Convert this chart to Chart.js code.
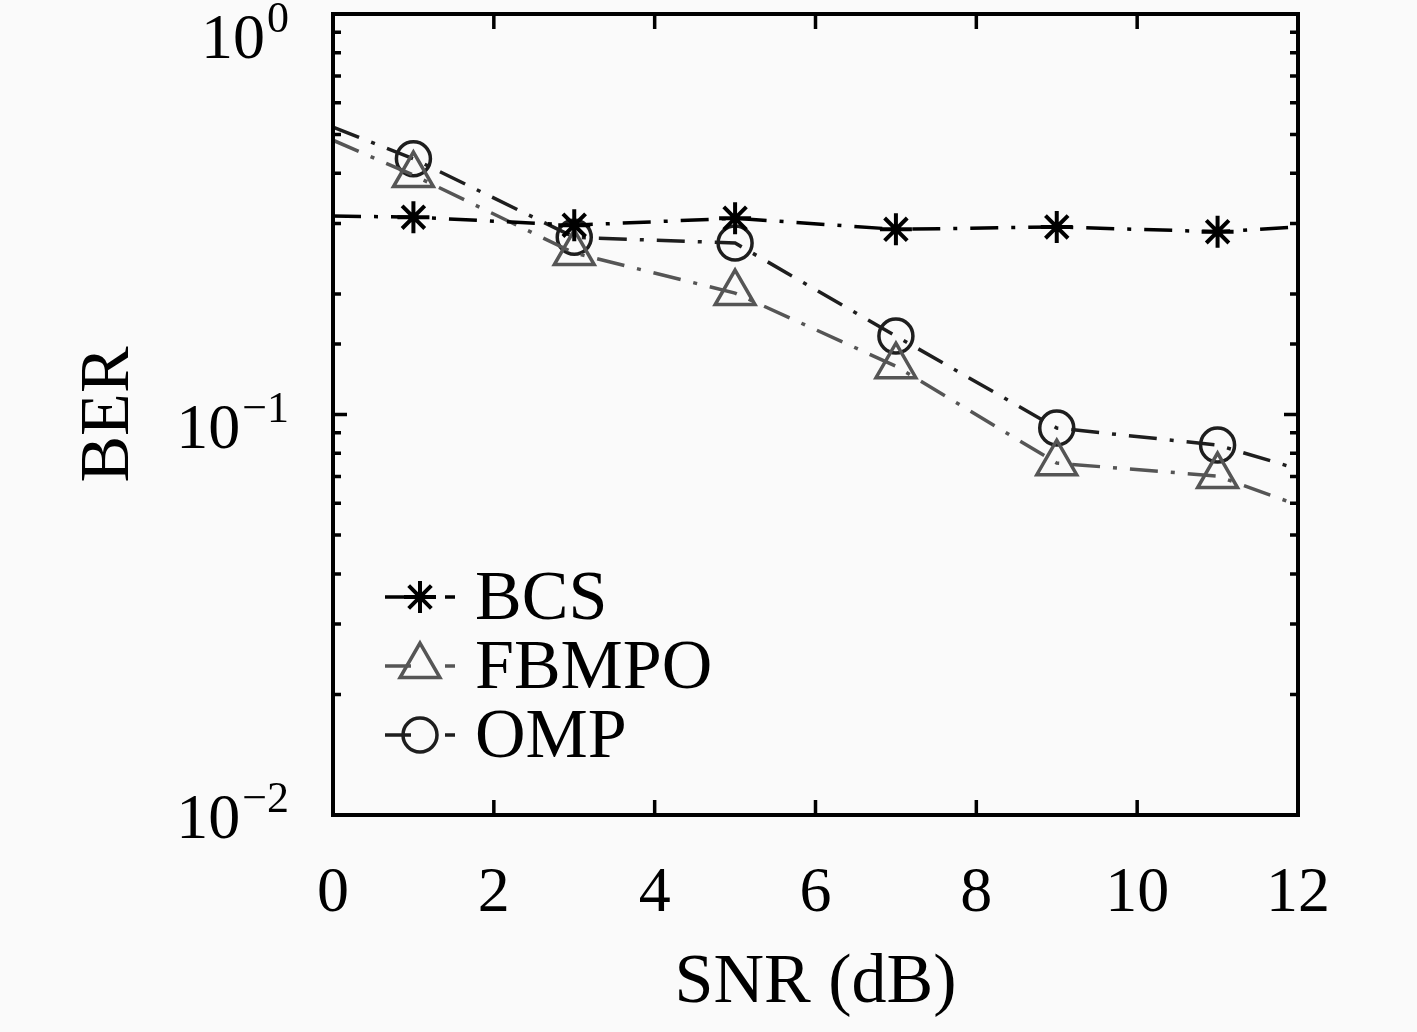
<!DOCTYPE html>
<html>
<head>
<meta charset="utf-8">
<script src="https://cdn.jsdelivr.net/npm/chart.js@4.4.1/dist/chart.umd.min.js"></script>
<style>
  html, body { margin: 0; padding: 0; background: #fafafa; }
  #wrap { width: 1417px; height: 1032px; }
</style>
</head>
<body>
<div id="wrap"><canvas id="c" width="1417" height="1032"></canvas></div>
<script>
// ---- data ----
const snr = [0, 1, 3, 5, 7, 9, 11, 12];
const markerShown = [false, true, true, true, true, true, true, false];
const berBCS   = [0.313, 0.311, 0.297, 0.309, 0.290, 0.294, 0.286, 0.294];
const berFBMPO = [0.484, 0.396, 0.253, 0.201, 0.132, 0.0756, 0.0702, 0.0594];
const berOMP   = [0.522, 0.435, 0.277, 0.268, 0.157, 0.0925, 0.0839, 0.0731];
const seriesNames = ['BCS', 'FBMPO', 'OMP'];
const xTickValues = [0, 2, 4, 6, 8, 10, 12];
const yDecades = [0, -1, -2];

const FONT = '"Liberation Serif", "Times New Roman", serif';
const DASH = [28, 13, 4, 13];

function pts(arr) { return snr.map((x, i) => ({ x: x, y: arr[i] })); }
function radii(r) { return markerShown.map(s => s ? r : 0); }

const styles = [
  { color: '#000000', point: 'star', r: 16, bw: 4 },
  { color: '#555555', point: 'triangle', r: 23, bw: 3.5 },
  { color: '#1e1e1e', point: 'circle', r: 17, bw: 3.5 }
];
const seriesData = [berBCS, berFBMPO, berOMP];

const datasets = seriesData.map((d, i) => ({
  label: seriesNames[i],
  data: pts(d),
  borderColor: styles[i].color,
  borderWidth: 3.5,
  borderDash: DASH,
  tension: 0,
  fill: false,
  pointStyle: styles[i].point,
  pointRadius: radii(styles[i].r),
  pointHoverRadius: radii(styles[i].r),
  pointBorderColor: styles[i].color,
  pointBackgroundColor: 'rgba(0,0,0,0)',
  pointBorderWidth: styles[i].bw
}));

function drawMarker(ctx, style, x, y, r, color, bw) {
  ctx.save();
  ctx.strokeStyle = color;
  ctx.lineWidth = bw;
  ctx.setLineDash([]);
  ctx.beginPath();
  if (style === 'circle') {
    ctx.arc(x, y, r, 0, Math.PI * 2);
  } else if (style === 'triangle') {
    for (let k = 0; k < 3; k++) {
      const a = k * 2 * Math.PI / 3;
      const px = x + Math.sin(a) * r, py = y - Math.cos(a) * r;
      if (k === 0) ctx.moveTo(px, py); else ctx.lineTo(px, py);
    }
    ctx.closePath();
  } else {
    for (let k = 0; k < 4; k++) {
      const a = k * Math.PI / 4;
      ctx.moveTo(x - Math.sin(a) * r, y - Math.cos(a) * r);
      ctx.lineTo(x + Math.sin(a) * r, y + Math.cos(a) * r);
    }
  }
  ctx.stroke();
  ctx.restore();
}

const framePlugin = {
  id: 'frame',
  beforeDraw(chart) {
    const ctx = chart.ctx;
    ctx.save();
    ctx.fillStyle = '#fafafa';
    ctx.fillRect(0, 0, chart.width, chart.height);
    ctx.restore();
  },
  afterDraw(chart) {
    const ctx = chart.ctx;
    const a = chart.chartArea;
    const xs = chart.scales.x, ys = chart.scales.y;
    ctx.save();
    ctx.strokeStyle = '#000';
    ctx.lineWidth = 3.5;
    ctx.setLineDash([]);
    // inward ticks x
    ctx.beginPath();
    xs.ticks.forEach(t => {
      const px = xs.getPixelForValue(t.value);
      ctx.moveTo(px, a.bottom); ctx.lineTo(px, a.bottom - 15);
      ctx.moveTo(px, a.top); ctx.lineTo(px, a.top + 15);
    });
    // inward ticks y (log)
    ys.ticks.forEach(t => {
      const v = t.value;
      const lg = Math.log10(v);
      const major = Math.abs(lg - Math.round(lg)) < 1e-6;
      const len = major ? 14 : 8;
      const py = ys.getPixelForValue(v);
      ctx.moveTo(a.left, py); ctx.lineTo(a.left + len, py);
      ctx.moveTo(a.right, py); ctx.lineTo(a.right - len, py);
    });
    ctx.stroke();
    // box
    ctx.lineWidth = 4;
    ctx.strokeRect(a.left, a.top, a.right - a.left, a.bottom - a.top);

    // x tick labels
    ctx.fillStyle = '#000';
    ctx.font = '64px ' + FONT;
    ctx.textAlign = 'center';
    ctx.textBaseline = 'alphabetic';
    xs.ticks.forEach(t => {
      const px = xs.getPixelForValue(t.value);
      ctx.fillText(String(t.value), px, a.bottom + 96);
    });

    // y tick labels 10^n
    const shift = { '0': 21, '-1': 10, '-2': 0 };
    const rightEdge = a.left - 44;
    yDecades.forEach(e => {
      const py = ys.getPixelForValue(Math.pow(10, e));
      const s = shift[String(e)];
      const expText = e === 0 ? '0' : '\u2212' + String(-e);
      ctx.textAlign = 'right';
      ctx.font = '44px ' + FONT;
      const ew = ctx.measureText(expText).width;
      ctx.fillText(expText, rightEdge, py + s - 3);
      ctx.font = '64px ' + FONT;
      ctx.fillText('10', rightEdge - ew - 2, py + s + 23);
    });

    // legend
    const lx = a.left + 52, ly0 = a.top + 583, rowH = 69;
    chart.data.datasets.forEach((ds, i) => {
      const y = ly0 + i * rowH;
      const st = styles[i];
      ctx.save();
      ctx.strokeStyle = st.color;
      ctx.lineWidth = 3.5;
      ctx.beginPath();
      ctx.moveTo(lx, y); ctx.lineTo(lx + 26, y);
      ctx.moveTo(lx + 60, y); ctx.lineTo(lx + 70, y);
      ctx.stroke();
      ctx.restore();
      drawMarker(ctx, st.point, lx + 35, y, st.r, st.color, st.bw);
      ctx.fillStyle = '#000';
      ctx.font = '70px ' + FONT;
      ctx.textAlign = 'left';
      ctx.textBaseline = 'alphabetic';
      ctx.fillText(ds.label, lx + 90, y + 22);
    });
    ctx.restore();
  }
};

new Chart(document.getElementById('c'), {
  type: 'line',
  data: { datasets: datasets },
  plugins: [framePlugin],
  options: {
    responsive: false,
    animation: false,
    devicePixelRatio: 1,
    layout: { padding: { top: 14, right: 119, bottom: 0, left: 0 } },
    plugins: { legend: { display: false }, tooltip: { enabled: false } },
    scales: {
      x: {
        type: 'linear',
        min: 0, max: 12,
        afterBuildTicks: s => { s.ticks = xTickValues.map(v => ({ value: v })); },
        afterFit: s => { s.height = 217; },
        grid: { display: false, drawTicks: false },
        border: { display: false },
        ticks: { display: false },
        title: {
          display: true, text: 'SNR (dB)', color: '#000',
          font: { family: FONT, size: 70 },
          padding: { top: 0, bottom: 6 }
        }
      },
      y: {
        type: 'logarithmic',
        min: 0.01, max: 1,
        afterFit: s => { s.width = 333; },
        grid: { display: false, drawTicks: false },
        border: { display: false },
        ticks: { display: false },
        title: {
          display: true, text: 'BER', color: '#000',
          font: { family: FONT, size: 70 },
          padding: { top: 68, bottom: 0 }
        }
      }
    }
  }
});
</script>
</body>
</html>
